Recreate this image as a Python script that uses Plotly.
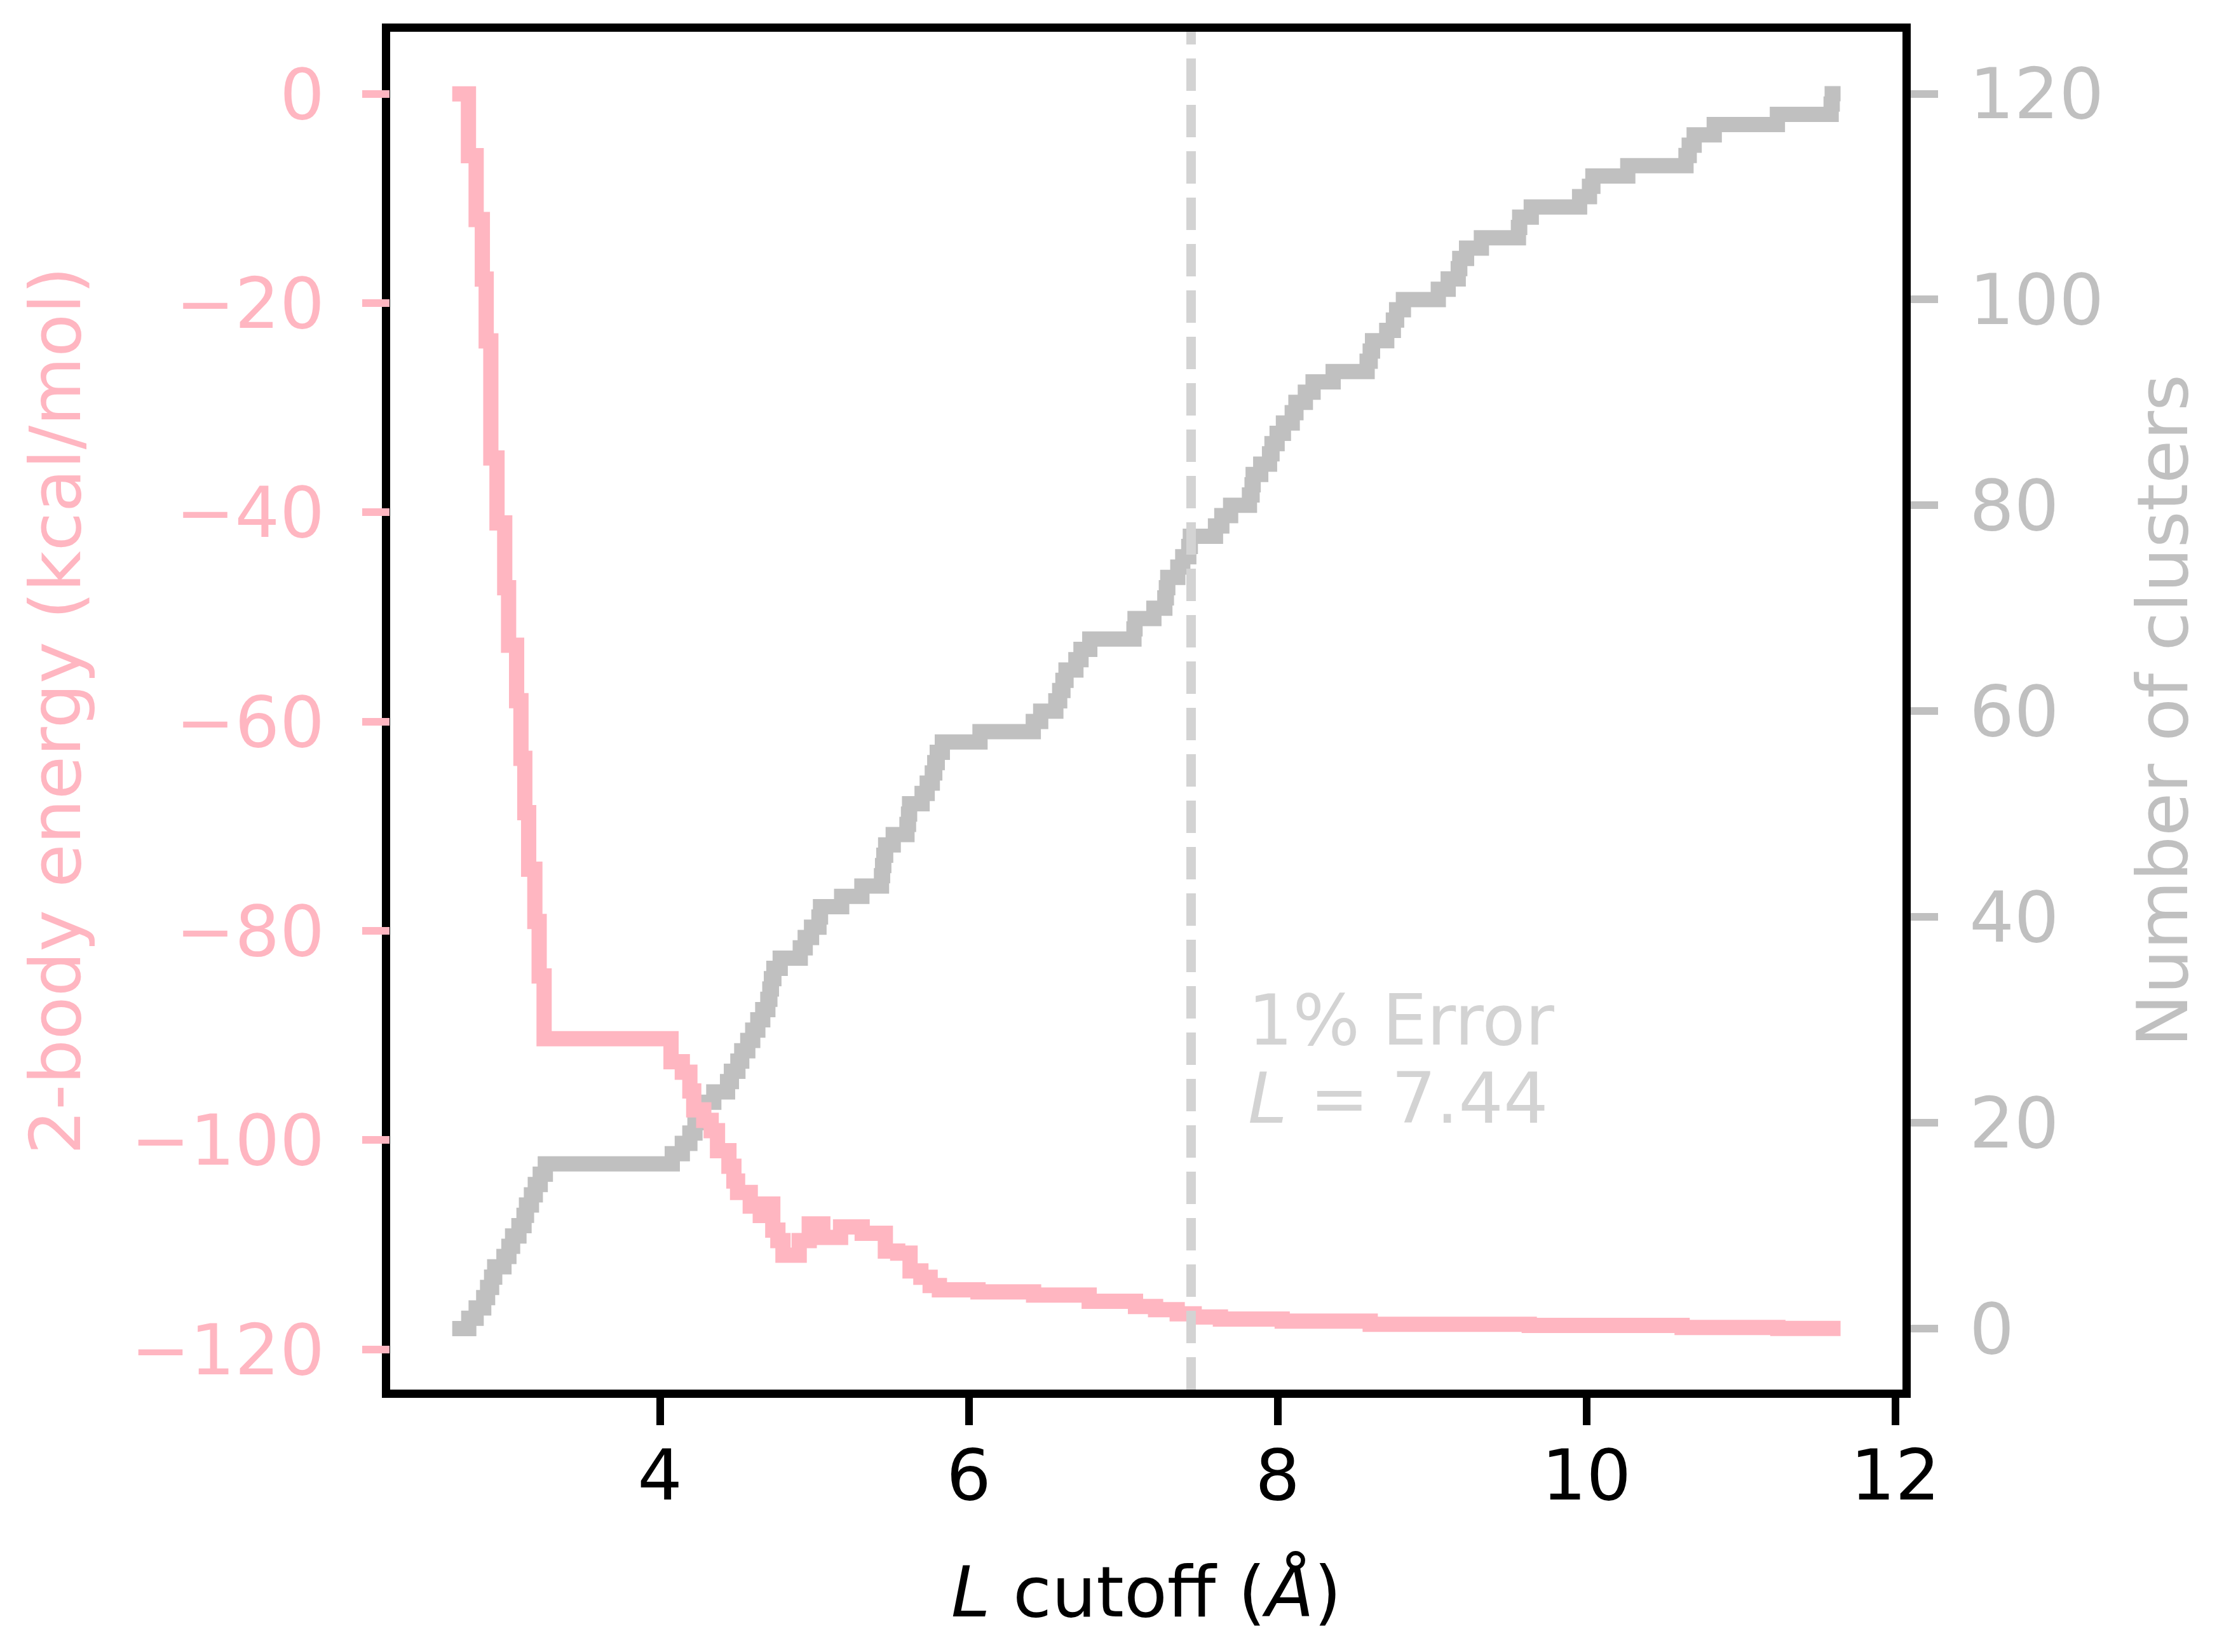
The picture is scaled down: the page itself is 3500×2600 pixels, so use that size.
import plotly.graph_objects as go

# cumulative number of clusters with distance <= L (right axis)
cluster_L = [2.655, 2.762, 2.810, 2.859, 2.884, 2.910, 2.930, 2.990, 3.022, 3.046, 3.087,
             3.120, 3.136, 3.168, 3.193, 3.225, 3.258,
             4.080, 4.145, 4.194, 4.227, 4.250, 4.265, 4.349, 4.438, 4.463, 4.505,
             4.530, 4.569, 4.601, 4.634, 4.666, 4.699, 4.712, 4.722, 4.738, 4.779,
             4.909, 4.941, 4.982, 5.030, 5.040, 5.177, 5.308, 5.435, 5.442, 5.450,
             5.462, 5.511, 5.600, 5.610, 5.617, 5.698, 5.731, 5.764, 5.780, 5.796,
             5.829, 6.073, 6.418, 6.466, 6.564, 6.589, 6.610, 6.630, 6.694, 6.727,
             6.784, 7.070, 7.077, 7.199, 7.270, 7.280, 7.289, 7.354, 7.386, 7.425,
             7.435, 7.598, 7.639, 7.696, 7.818, 7.835, 7.842, 7.891, 7.948, 7.964,
             7.997, 8.038, 8.095, 8.119, 8.180, 8.230, 8.360, 8.580, 8.600, 8.615,
             8.707, 8.750, 8.771, 8.815, 9.041, 9.105, 9.170, 9.180, 9.224, 9.320,
             9.560, 9.568, 9.643, 9.956, 10.020, 10.042, 10.268, 10.645, 10.666, 10.698,
             10.828, 11.237, 11.585, 11.592, 11.646]
cluster_n = [0, 1, 2, 3, 4, 5, 6, 7, 8, 9, 10,
             11, 12, 13, 14, 15, 16,
             17, 18, 19, 20, 21, 22, 23, 24, 25, 26,
             27, 28, 29, 30, 31, 32, 33, 34, 35, 36,
             37, 38, 39, 40, 41, 42, 43, 44, 45, 46,
             47, 48, 49, 50, 51, 52, 53, 54, 55, 56,
             57, 58, 59, 60, 61, 62, 63, 64, 65, 66,
             67, 68, 69, 70, 71, 72, 73, 74, 75, 76,
             77, 78, 79, 80, 81, 82, 83, 84, 85, 86,
             87, 88, 89, 90, 91, 92, 93, 94, 95, 96,
             97, 98, 99, 100, 101, 102, 103, 104, 105, 106,
             107, 108, 109, 110, 111, 112, 113, 114, 115, 116,
             117, 118, 119, 120, 120]

# cumulative 2-body energy (kcal/mol) vs L (left axis)
energy_L = [2.655, 2.760, 2.810, 2.850, 2.875, 2.905, 2.945, 2.995, 3.020, 3.072, 3.100,
            3.125, 3.150, 3.190, 3.218, 3.250,
            4.072, 4.145, 4.194, 4.219, 4.284, 4.332, 4.373, 4.447, 4.479, 4.503,
            4.585, 4.650, 4.682, 4.731, 4.764, 4.797, 4.902, 4.967, 5.055, 5.170,
            5.310, 5.460, 5.540, 5.620, 5.690, 5.750, 5.810, 6.060, 6.420, 6.780,
            7.080, 7.210, 7.350, 7.460, 7.630, 8.030, 8.600, 9.630, 10.620, 11.240,
            11.646]
energy_kcal = [0.0, -5.9, -12.0, -17.7, -23.6, -34.8, -41.0, -47.2, -52.7, -58.0, -63.5,
               -68.7, -74.1, -79.1, -84.3, -90.3,
               -92.5, -93.5, -95.3, -97.1, -98.1, -99.1, -101.0, -102.5, -103.9, -105.0,
               -106.3, -107.2, -106.1, -108.6, -109.6, -111.0, -109.6, -108.0, -109.3, -108.3,
               -108.9, -110.6, -110.8, -112.5, -113.1, -113.9, -114.3, -114.5, -114.8, -115.4,
               -115.9, -116.2, -116.6, -116.9, -117.1, -117.3, -117.6, -117.7, -117.9, -118.0,
               -118.0]

cutoff_1pct = 7.44
x_ticks = [4, 6, 8, 10, 12]
energy_ticks = [0, -20, -40, -60, -80, -100, -120]
cluster_ticks = [0, 20, 40, 60, 80, 100, 120]

PINK = '#ffb6c1'
SILVER = '#c0c0c0'
LIGHTGRAY = '#d3d3d3'
FONT = 'DejaVu Sans'
FS = 111
LW = 24       # curve width
SPINE = 13    # frame width
TW = 12       # tick width

fig = go.Figure()

# clusters go on the base axis (right side) so the energy line is drawn on top
fig.add_trace(go.Scatter(x=cluster_L, y=cluster_n, mode='lines', yaxis='y',
                         line=dict(color=SILVER, width=LW, shape='hv'), showlegend=False))
fig.add_trace(go.Scatter(x=energy_L, y=energy_kcal, mode='lines', yaxis='y2',
                         line=dict(color=PINK, width=LW, shape='hv'), showlegend=False))

# 1% error cutoff
fig.add_shape(type='line', xref='x', yref='paper', x0=cutoff_1pct, x1=cutoff_1pct, y0=0, y1=1,
              line=dict(color=LIGHTGRAY, width=15, dash='51px,22px'), layer='above')
fig.add_annotation(x=7.80, y=-88.5, xref='x', yref='y2', text='1% Error', showarrow=False,
                   xanchor='left', yanchor='middle', font=dict(family=FONT, size=FS, color=LIGHTGRAY))
fig.add_annotation(x=7.80, y=-96.0, xref='x', yref='y2', text='<i>L</i> = %.2f' % cutoff_1pct,
                   showarrow=False, xanchor='left', yanchor='middle',
                   font=dict(family=FONT, size=FS, color=LIGHTGRAY))

fig.update_layout(
    width=3500, height=2600,
    margin=dict(l=606, r=514, t=42, b=421, pad=0),
    paper_bgcolor='white', plot_bgcolor='white',
    font=dict(family=FONT, size=FS, color='black'),
    xaxis=dict(range=[2.253, 12.047], tickvals=x_ticks, ticks='outside', ticklen=43, tickwidth=TW,
               tickcolor='black', showline=True, linecolor='black', linewidth=SPINE, mirror=True,
               showgrid=False, zeroline=False, automargin=False, ticklabelstandoff=-16,
               tickfont=dict(family=FONT, size=FS, color='black'),
               title=dict(text='<i>L</i> cutoff (<i>Å</i>)', standoff=87,
                          font=dict(family=FONT, size=FS, color='black'))),
    yaxis=dict(side='right', range=[-5.93, 126.02], tickvals=cluster_ticks, ticks='outside',
               ticklen=43, tickwidth=TW, tickcolor=SILVER, showline=True, linecolor='black',
               linewidth=SPINE, mirror=True, showgrid=False, zeroline=False, automargin=False,
               ticklabelstandoff=27,
               tickfont=dict(family=FONT, size=FS, color=SILVER),
               title=dict(text='Number of clusters', standoff=60,
                          font=dict(family=FONT, size=FS, color=SILVER))),
    yaxis2=dict(overlaying='y', side='left', range=[-123.84, 5.94], tickvals=energy_ticks,
                ticks='outside', ticklen=43, tickwidth=TW, tickcolor=PINK, showline=False,
                showgrid=False, zeroline=False, automargin=False, ticklabelstandoff=37,
                tickfont=dict(family=FONT, size=FS, color=PINK),
                title=dict(text='2-body energy (kcal/mol)', standoff=42,
                           font=dict(family=FONT, size=FS, color=PINK))),
)

fig.write_html('out.html')
